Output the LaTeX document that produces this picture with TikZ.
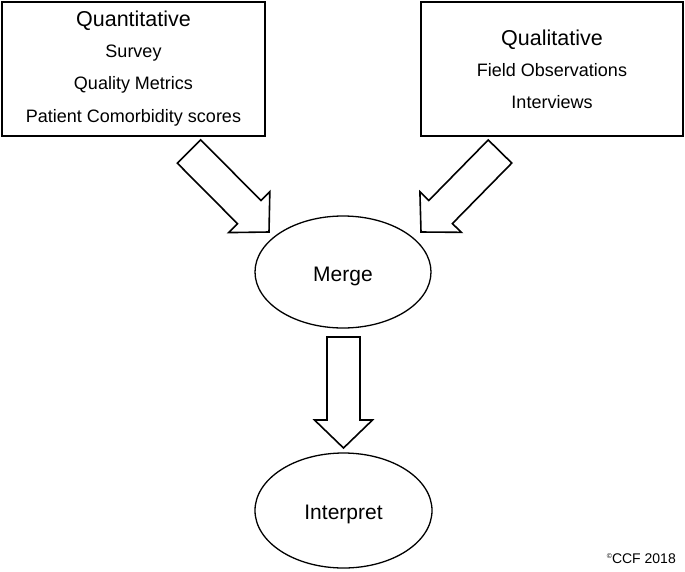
\documentclass[tikz,border=0pt]{standalone}
\usepackage{fontspec}
\setmainfont{Liberation Sans}
\usetikzlibrary{calc,shapes.geometric}

\tikzset{
  boxnode/.style={draw, rectangle, line width=1.6pt, inner sep=0pt},
  ovalnode/.style={draw, ellipse, line width=1.3pt, inner sep=0pt,
    font=\fontsize{21}{25}\selectfont, text height=18pt, text depth=0pt},
  headtext/.style={anchor=base, inner sep=0pt, font=\fontsize{21.5}{26}\selectfont},
  itemtext/.style={anchor=base, inner sep=0pt, font=\fontsize{18}{22}\selectfont},
  fatline/.style={draw, line width=1.6pt, line join=miter, fill=white},
}

% 空心粗箭头：#1 尾部中点，#2 箭尖
\newcommand{\fatarrow}[2]{%
  \coordinate (hb) at ($(#2)!28pt!(#1)$);
  \path[fatline] ($(#1)!16.5pt!90:(#2)$) -- ($(hb)!16.5pt!90:(#2)$)
    -- ($(hb)!29pt!90:(#2)$) -- (#2) -- ($(hb)!29pt!-90:(#2)$)
    -- ($(hb)!16.5pt!-90:(#2)$) -- ($(#1)!16.5pt!-90:(#2)$) -- cycle;
}

\begin{document}
\begin{tikzpicture}[x=1pt, y=-1pt, line cap=round]

  %% ════ 两个方框 ════
  \node[boxnode, minimum width=263pt, minimum height=134pt] (quant) at (133.5,69) {};
  \node[boxnode, minimum width=262pt, minimum height=134pt] (qual) at (552,69) {};

  %% ════ 方框文字 ════
  \node[headtext] (quanthead) at (133.5,26) {Quantitative};
  \node[itemtext] (survey) at (133.5,57) {Survey};
  \node[itemtext] (metrics) at (133.5,89) {Quality Metrics};
  \node[itemtext] (comorb) at (133.5,122) {Patient Comorbidity scores};

  \node[headtext] (qualhead) at (552,45) {Qualitative};
  \node[itemtext] (fieldobs) at (552,76) {Field Observations};
  \node[itemtext] (interviews) at (552,108) {Interviews};

  %% ════ 椭圆 ════
  \node[ovalnode, minimum width=176pt, minimum height=112pt] (merge) at (343,272) {Merge};
  \node[ovalnode, minimum width=177pt, minimum height=115pt] (interpret) at (343.5,510.5) {Interpret};

  %% ════ 粗箭头 ════
  \coordinate (qtail) at (189,151.5);
  \coordinate (qtip) at (269,232);
  \coordinate (ltail) at (500,151.5);
  \coordinate (ltip) at (421,232);
  \coordinate (mtail) at (343.5,337);
  \coordinate (mtip) at (343.5,448);
  \fatarrow{qtail}{qtip}
  \fatarrow{ltail}{ltip}
  \fatarrow{mtail}{mtip}

  %% ════ 版权 ════
  \node[anchor=base east, inner sep=0pt, font=\fontsize{14}{16}\selectfont] (ccf) at (676,563)
    {{\fontsize{7}{8}\selectfont\raisebox{5pt}{©}}CCF 2018};

  \pgfresetboundingbox
  \path[use as bounding box] (0,0) rectangle (685,571);
\end{tikzpicture}
\end{document}
